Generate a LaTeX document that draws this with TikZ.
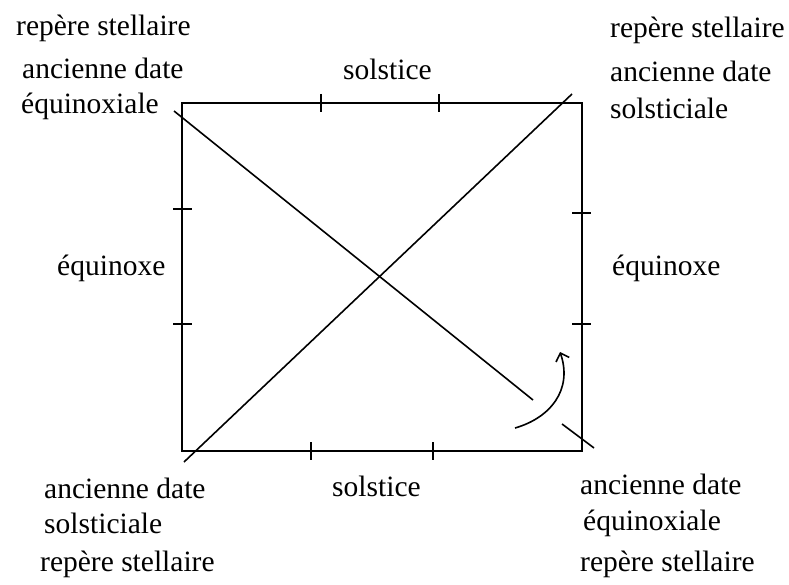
\documentclass[tikz,border=0pt]{standalone}
\usepackage{fontspec}
\setmainfont{Liberation Serif}
\usetikzlibrary{arrows.meta}
\begin{document}
\begin{tikzpicture}[x=1pt,y=-1pt,
  lbl/.style={anchor=base west, inner sep=0pt, font=\fontsize{29.5}{32}\selectfont},
  frame/.style={line width=2pt, black},
  tick/.style={line width=1.8pt, black},
  diag/.style={line width=1.6pt, black},
  turn/.style={line width=1.6pt, black, -{Straight Barb[length=7pt,width=14pt]}}]
\useasboundingbox (0,0) rectangle (789,585);
\fill[white] (0,0) rectangle (789,585);
% frame
\coordinate (TL) at (182,103);
\coordinate (TR) at (582,103);
\coordinate (BR) at (582,451);
\coordinate (BL) at (182,451);
\draw[frame] (TL) -- (TR) -- (BR) -- (BL) -- cycle;
% ticks
\draw[tick] (321,94) -- (321,112);
\draw[tick] (439,94) -- (439,112);
\draw[tick] (311,442) -- (311,460);
\draw[tick] (433,442) -- (433,460);
\draw[tick] (173,209) -- (192,209);
\draw[tick] (173,324) -- (192,324);
\draw[tick] (572,213) -- (591,213);
\draw[tick] (572,324) -- (591,324);
% diagonals
\coordinate (d1a) at (174,111);
\coordinate (d1b) at (533,400);
\coordinate (d1c) at (562,424);
\coordinate (d1d) at (594,448);
\draw[diag] (d1a) -- (d1b);
\draw[diag] (d1c) -- (d1d);
\coordinate (d2a) at (184,462);
\coordinate (d2b) at (572,94);
\draw[diag] (d2a) -- (d2b);
% rotation arrow
\coordinate (r1) at (515,428);
\coordinate (r2) at (560,352);
\draw[turn] (r1) .. controls (550,418) and (573,390) .. (r2);
% labels
\node[lbl] (tl1) at (16,36) {repère stellaire};
\node[lbl] (tl2) at (22,79) {ancienne date};
\node[lbl] (tl3) at (21,114) {équinoxiale};
\node[lbl] (tr1) at (610,38) {repère stellaire};
\node[lbl] (tr2) at (610,82) {ancienne date};
\node[lbl] (tr3) at (610,119) {solsticiale};
\node[lbl] (st) at (343,80) {solstice};
\node[lbl] (eqL) at (57,276) {équinoxe};
\node[lbl] (eqR) at (612,276) {équinoxe};
\node[lbl] (sb) at (332,496) {solstice};
\node[lbl] (bl1) at (44,498) {ancienne date};
\node[lbl] (bl2) at (44,533) {solsticiale};
\node[lbl] (bl3) at (40,571) {repère stellaire};
\node[lbl] (br1) at (580,494) {ancienne date};
\node[lbl] (br2) at (583,530) {équinoxiale};
\node[lbl] (br3) at (580,571) {repère stellaire};
\end{tikzpicture}
\end{document}
